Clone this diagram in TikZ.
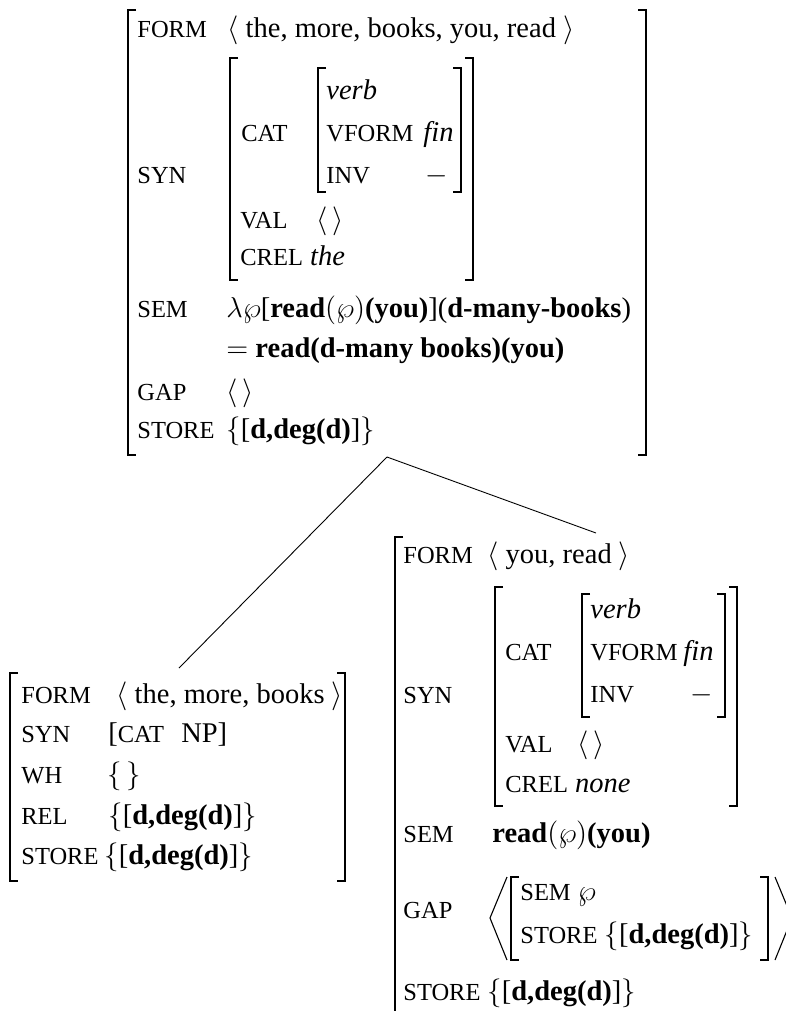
\documentclass[tikz,border=0pt]{standalone}
\usepackage{fontspec}
\setmainfont{Liberation Serif}
\newcommand\fl[1]{{\fontsize{12.25}{13}\selectfont #1}}
\newcommand\dstore{$\{$[\textbf{d,deg(d)}]$\}$}
% a pair of square brackets enclosing an attribute-value matrix
\newcommand\avmbox[5]{%
  \draw[#1] (#2+8,#3) -- (#2,#3) -- (#2,#5) -- (#2+8,#5);
  \draw[#1] (#4-8,#3) -- (#4,#3) -- (#4,#5) -- (#4-8,#5);}
\begin{document}
\begin{tikzpicture}[x=0.5pt,y=-0.5pt,
  lab/.style={anchor=base west,inner sep=0pt,font=\fontsize{12.25}{13}\selectfont},
  val/.style={anchor=base west,inner sep=0pt,font=\fontsize{14.25}{15}\selectfont},
  brk/.style={line width=0.85pt},
  ibrk/.style={line width=0.75pt},
  angle/.style={line width=0.55pt},
  branch/.style={line width=0.45pt}]
\useasboundingbox (0,0) rectangle (786,1011);
\clip (0,0) rectangle (786,1011);

% ---- mother: the more books you read ----
\avmbox{brk}{128}{10}{646}{455}
\node[lab] (tFormL) at (137,38) {FORM};
\node[val] (tFormV) at (227,38) {$\langle$ the, more, books, you, read $\rangle$};
\node[lab] (tSynL) at (137,184) {SYN};
\avmbox{ibrk}{230}{58}{473}{280}
\node[lab] (tCatL) at (241,141) {CAT};
\avmbox{ibrk}{318}{68}{461}{192}
\node[val] (tVerb) at (326,100) {\itshape verb};
\node[lab] (tVformL) at (326,141) {VFORM};
\node[val] (tVformV) at (423,141) {\itshape fin};
\node[lab] (tInvL) at (326,184) {INV};
\node[val] (tInvV) at (425,184) {$-$};
\node[lab] (tValL) at (240,228) {VAL};
\node[val] (tValV) at (316,228) {$\langle\,\rangle$};
\node[val] (tCrel) at (240,265) {\fl{CREL} \textit{the}};
\node[lab] (tSemL) at (137,317) {SEM};
\node[val] (tSemV) at (226,317) {$\lambda\wp$[\textbf{read}$(\wp)$\textbf{(you)}](\textbf{d-many-books})};
\node[val] (tSemV2) at (226,357) {$=$ \textbf{read(d-many books)(you)}};
\node[lab] (tGapL) at (137,400) {GAP};
\node[val] (tGapV) at (226,400) {$\langle\,\rangle$};
\node[lab] (tStoreL) at (137,438) {STORE};
\node[val] (tStoreV) at (226,438) {\dstore};

% ---- branches ----
\coordinate (tRoot) at (387,457);
\coordinate (lTop) at (179,668);
\coordinate (rTop) at (596,533);
\draw[branch] (tRoot) -- (lTop);
\draw[branch] (tRoot) -- (rTop);

% ---- left daughter: the more books ----
\avmbox{brk}{10}{673}{345}{881}
\node[lab] (lFormL) at (21,703) {FORM};
\node[val] (lFormV) at (116,703) {$\langle$ the, more, books $\rangle$};
\node[lab] (lSynL) at (21,742) {SYN};
\node[val] (lSynV) at (108,742) {[\fl{CAT}\hspace{0.6em}NP]};
\node[lab] (lWhL) at (21,783) {WH};
\node[val] (lWhV) at (107,783) {$\{\,\}$};
\node[lab] (lRelL) at (21,824) {REL};
\node[val] (lRelV) at (108,824) {\dstore};
\node[lab] (lStoreL) at (21,864) {STORE};
\node[val] (lStoreV) at (104,864) {\dstore};

% ---- right daughter: you read ----
\draw[brk] (403,537) -- (395,537) -- (395,1030);
\node[lab] (rFormL) at (403,563) {FORM};
\node[val] (rFormV) at (487,563) {$\langle$ you, read $\rangle$};
\node[lab] (rSynL) at (403,703) {SYN};
\avmbox{ibrk}{495}{587}{737}{806}
\node[lab] (rCatL) at (505,660) {CAT};
\avmbox{ibrk}{582}{594}{725}{717}
\node[val] (rVerb) at (590,618) {\itshape verb};
\node[lab] (rVformL) at (590,660) {VFORM};
\node[val] (rVformV) at (683,660) {\itshape fin};
\node[lab] (rInvL) at (590,702) {INV};
\node[val] (rInvV) at (690,702) {$-$};
\node[lab] (rValL) at (505,752) {VAL};
\node[val] (rValV) at (577,752) {$\langle\,\rangle$};
\node[val] (rCrel) at (505,792) {\fl{CREL} \textit{none}};
\node[lab] (rSemL) at (403,842) {SEM};
\node[val] (rSemV) at (492,842) {\textbf{read}$(\wp)$\textbf{(you)}};
\node[lab] (rGapL) at (403,918) {GAP};
\draw[angle] (507,877) -- (490,918) -- (507,960);
\draw[angle] (775,877) -- (792,918) -- (775,960);
\avmbox{ibrk}{511}{877}{768}{960}
\node[val] (rGapSem) at (520,900) {\fl{SEM} $\wp$};
\node[val] (rGapStore) at (520,943) {\fl{STORE} \dstore};
\node[lab] (rStoreL) at (403,1000) {STORE};
\node[val] (rStoreV) at (487,1000) {\dstore};
\end{tikzpicture}
\end{document}
